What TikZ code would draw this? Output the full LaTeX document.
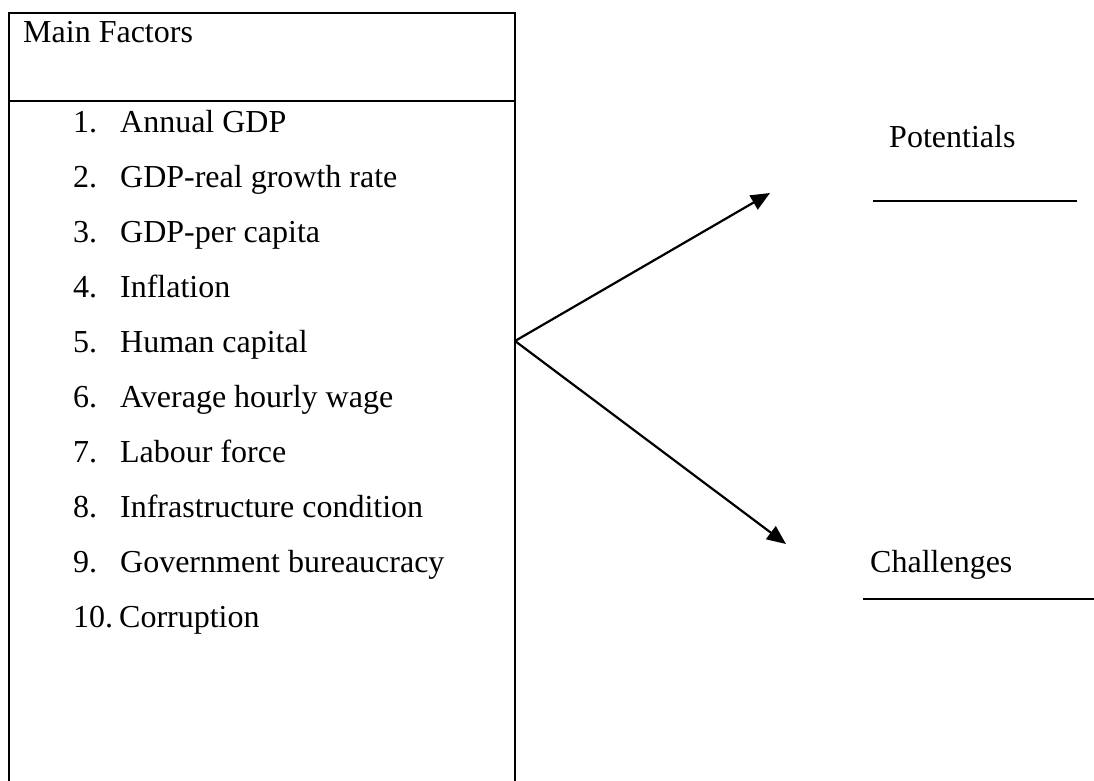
\documentclass[tikz,border=0pt]{standalone}
\usepackage{fontspec}
\setmainfont{Liberation Serif}
\usetikzlibrary{arrows.meta}
\begin{document}
\begin{tikzpicture}[x=1pt,y=-1pt,
  txt/.style={inner sep=0pt,anchor=base west,font=\fontsize{32}{38}\selectfont},
  frame/.style={line width=2pt},
  conn/.style={line width=2.2pt,-{Triangle[length=19pt,width=16pt]}},
  rule/.style={line width=2pt}]
\useasboundingbox (0,0) rectangle (1094,781);
% box
\coordinate (bl) at (9,790);
\coordinate (tl) at (9,13);
\coordinate (tr) at (515,13);
\coordinate (br) at (515,790);
\draw[frame] (bl) -- (tl) -- (tr) -- (br);
\coordinate (sepl) at (9,101);
\coordinate (sepr) at (515,101);
\draw[frame] (sepl) -- (sepr);
\node[txt] (head) at (23,43) {Main Factors};
\newcommand{\itm}[2]{\makebox[47pt][l]{#1}#2}
\node[txt] (i1) at (73,132) {\itm{1.}{Annual GDP}};
\node[txt] (i2) at (73,187) {\itm{2.}{GDP-real growth rate}};
\node[txt] (i3) at (73,242) {\itm{3.}{GDP-per capita}};
\node[txt] (i4) at (73,297) {\itm{4.}{Inflation}};
\node[txt] (i5) at (73,352) {\itm{5.}{Human capital}};
\node[txt] (i6) at (73,407) {\itm{6.}{Average hourly wage}};
\node[txt] (i7) at (73,462) {\itm{7.}{Labour force}};
\node[txt] (i8) at (73,517) {\itm{8.}{Infrastructure condition}};
\node[txt] (i9) at (73,572) {\itm{9.}{Government bureaucracy}};
\node[txt] (i10) at (73,627) {\makebox[46pt][l]{10.}Corruption};
% right side
\node[txt] (pot) at (889,147) {Potentials};
\node[txt] (cha) at (870,572) {Challenges};
\coordinate (pl) at (873,201);
\coordinate (pr) at (1077,201);
\draw[rule] (pl) -- (pr);
\coordinate (cl) at (863,599);
\coordinate (cr) at (1094,599);
\draw[rule] (cl) -- (cr);
% arrows
\coordinate (o) at (515,341);
\coordinate (t1) at (770,193);
\coordinate (t2) at (786,544);
\draw[conn] (o) -- (t1);
\draw[conn] (o) -- (t2);
\end{tikzpicture}
\end{document}
